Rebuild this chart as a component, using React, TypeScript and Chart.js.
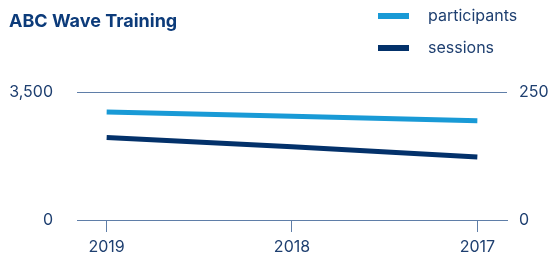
import { useEffect, useRef } from "react";
import { Chart, registerables } from "chart.js";

Chart.register(...registerables);

const title = "ABC Wave Training";
const categories = ["2019", "2018", "2017"];
const seriesLabels = ["participants", "sessions"];
const participants = [2950, 2840, 2715];
const sessions = [161, 143, 123];
const leftTicks = [0, 3500];
const rightTicks = [0, 250];

const FONT = "Inter";
const TITLE_COLOR = "#0c3b7a";
const TEXT_COLOR = "#1e3f70";
const GRID_COLOR = "#5f7ea8";
const LIGHT_BLUE = "#199ad6";
const NAVY = "#03316a";

const headerPlugin = {
  id: "header",
  afterDraw(chart: any) {
    const ctx = chart.ctx as CanvasRenderingContext2D;
    ctx.save();
    ctx.textAlign = "left";
    ctx.textBaseline = "middle";
    ctx.fillStyle = TITLE_COLOR;
    ctx.font = `bold 18px ${FONT}`;
    ctx.fillText(title, 9, 22);
    chart.data.datasets.forEach((ds: any, i: number) => {
      const y = 16 + i * 32;
      ctx.strokeStyle = ds.borderColor;
      ctx.lineWidth = 6;
      ctx.lineCap = "butt";
      ctx.beginPath();
      ctx.moveTo(378, y);
      ctx.lineTo(409, y);
      ctx.stroke();
      ctx.fillStyle = TEXT_COLOR;
      ctx.font = `16px ${FONT}`;
      ctx.fillText(ds.label, 428, y);
    });
    ctx.restore();
  },
};

export default function App() {
  const ref = useRef<HTMLCanvasElement | null>(null);
  useEffect(() => {
    if (!ref.current) return;
    const chart = new Chart(ref.current, {
      type: "line",
      data: {
        datasets: [
          {
            label: seriesLabels[0],
            data: participants.map((v, i) => ({ x: i, y: v })),
            borderColor: LIGHT_BLUE,
            backgroundColor: LIGHT_BLUE,
            borderWidth: 5,
            pointRadius: 0,
            tension: 0,
            yAxisID: "y",
          },
          {
            label: seriesLabels[1],
            data: sessions.map((v, i) => ({ x: i, y: v })),
            borderColor: NAVY,
            backgroundColor: NAVY,
            borderWidth: 5,
            pointRadius: 0,
            tension: 0,
            yAxisID: "y1",
          },
        ],
      },
      options: {
        animation: false,
        responsive: true,
        maintainAspectRatio: false,
        events: [],
        layout: { padding: { top: 92, left: 0, right: 0, bottom: 0 } },
        plugins: {
          legend: { display: false },
          title: { display: false },
          tooltip: { enabled: false },
        },
        scales: {
          x: {
            type: "linear",
            min: -0.16,
            max: 2.16,
            afterBuildTicks: (s: any) => {
              s.ticks = categories.map((_, i) => ({ value: i }));
            },
            afterFit: (s: any) => {
              s.height = 42;
            },
            ticks: {
              autoSkip: false,
              maxRotation: 0,
              color: TEXT_COLOR,
              font: { family: FONT, size: 16 },
              padding: 6,
              callback: (v: any) => categories[v] ?? "",
            },
            grid: {
              drawOnChartArea: false,
              drawTicks: true,
              tickLength: 12,
              color: GRID_COLOR,
              lineWidth: 1,
            },
            border: { display: true, color: GRID_COLOR, width: 1 },
          },
          y: {
            type: "linear",
            position: "left",
            min: leftTicks[0],
            max: leftTicks[1],
            afterBuildTicks: (s: any) => {
              s.ticks = leftTicks.map((v) => ({ value: v }));
            },
            afterFit: (s: any) => {
              s.width = 77;
            },
            ticks: {
              color: TEXT_COLOR,
              font: { family: FONT, size: 16 },
              padding: 24,
              callback: (v: any) => Number(v).toLocaleString("en-US"),
            },
            grid: { color: GRID_COLOR, lineWidth: 1, drawTicks: false },
            border: { display: false },
          },
          y1: {
            type: "linear",
            position: "right",
            min: rightTicks[0],
            max: rightTicks[1],
            afterBuildTicks: (s: any) => {
              s.ticks = rightTicks.map((v) => ({ value: v }));
            },
            afterFit: (s: any) => {
              s.width = 43;
            },
            ticks: {
              color: TEXT_COLOR,
              font: { family: FONT, size: 16 },
              padding: 12,
              callback: (v: any) => Number(v).toLocaleString("en-US"),
            },
            grid: { display: false, drawTicks: false, drawOnChartArea: false },
            border: { display: false },
          },
        },
      },
      plugins: [headerPlugin],
    });
    return () => chart.destroy();
  }, []);
  return (
    <div style={{ position: "absolute", left: 0, top: 0, width: 550, height: 262 }}>
      <canvas ref={ref} />
    </div>
  );
}
